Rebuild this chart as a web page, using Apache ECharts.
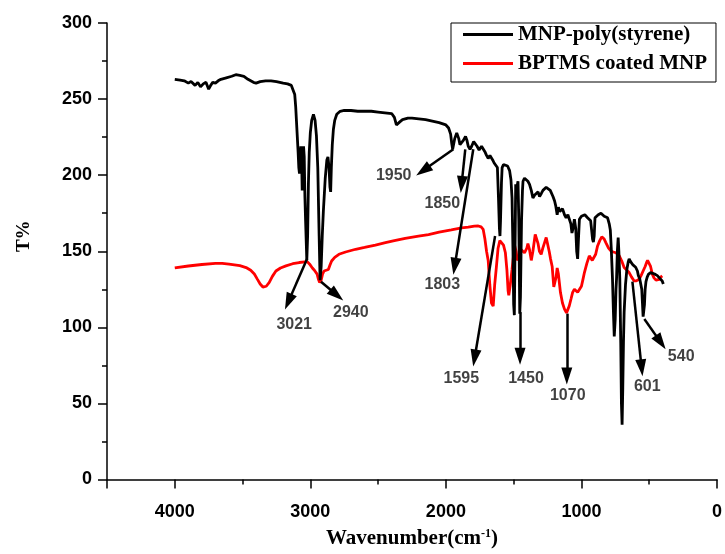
<!DOCTYPE html>
<html><head><meta charset="utf-8">
<script src="https://cdn.jsdelivr.net/npm/echarts@6/dist/echarts.min.js"></script>
<style>html,body{margin:0;padding:0;background:#fff}#c{width:725px;height:554px}</style>
</head><body><div id="c"></div>
<script>
// Black curve: MNP-poly(styrene)
const blackWave = [4000,3960,3930,3900,3880,3850,3830,3810,3790,3770,3750,3735,3720,3700,3680,3660,3620,3580,3550,3520,3490,3460,3420,3400,3370,3330,3290,3250,3200,3168,3140,3126,3115,3108,3102,3096,3090,3085,3080,3075,3070,3065,3060,3055,3050,3045,3040,3035,3026,3020,3014,3008,3000,2990,2977,2965,2955,2945,2935,2928,2920,2912,2904,2890,2878,2870,2862,2855,2850,2845,2838,2830,2820,2805,2780,2750,2700,2650,2600,2550,2500,2450,2400,2380,2365,2354,2340,2320,2280,2250,2200,2150,2100,2050,2000,1980,1965,1957,1950,1945,1935,1920,1905,1896,1884,1870,1855,1845,1835,1822,1810,1795,1786,1770,1755,1749,1737,1725,1710,1700,1688,1675,1664,1655,1644,1630,1620,1612,1605,1601,1597,1590,1585,1575,1561,1545,1530,1520,1512,1505,1500,1495,1490,1485,1480,1474,1468,1462,1455,1450,1442,1435,1431,1420,1407,1395,1383,1370,1358,1345,1334,1320,1309,1296,1284,1270,1260,1245,1230,1220,1210,1198,1190,1179,1170,1160,1150,1140,1125,1113,1100,1088,1078,1070,1062,1052,1042,1035,1028,1022,1015,1000,990,975,966,955,942,932,925,918,912,906,900,890,876,865,856,845,832,820,807,795,787,780,771,764,758,751,745,741,735,729,724,717,710,705,700,695,690,685,675,665,655,648,640,631,620,611,600,594,587,580,570,563,555,550,545,540,535,530,524,515,505,490,477,460,440,420,404,396];
const blackT = [263,262.5,262,260.5,261.5,259,261,258,260,261,256.5,259,261,260.5,262,263,264,265,266,265.5,265,263,261,260.5,261.5,262,262,261.5,260.5,260,259,258,253,245,235,225,215,205,201,210,219,214,190,205,219,212,186,170,144,160,195,215,228,236,240,236,226,205,160,131,140,160,176,198,210,212,205,192,189,205,220,230,236,240,242,242.5,242.5,242,242,242,241.5,241,240.5,238,233,232,235,236.5,237.5,237.5,237,236.5,235.5,234.5,233,231,227,221,217,218,224,227.7,224,220,219,223,225.5,223,219,217,219,222,221,219,216.5,217,219,218,215,213,211,213,212.5,210,208,208,205,185,165,160,170,195,205,207,208,206,203,197,185,150,115,108,150,194,190,193,196,170,109,120,170,190,196,198,198,196,194,190,185,187,187,189,186,188,190,191,192,191,190,189,186,183,180,174,179,176,175,178,174,172,174,173,168,162,165,171,165,150,145,158,171,173,173,174,174,172,173,170,164,158,156,160,172,173,174,175,175,174,173,173.5,172,168,164,152,132,110,94,105,125,132,150,159,150,132,90,50,36,60,90,110,128,138,143,145,143.5,142.6,141,140.4,139.5,139,137,134,132,131.5,125,116,107,106,115,125,130,133,135,136,135.5,135,134,132,130.5,128.5];

// Red curve: BPTMS coated MNP
const redWave = [4000,3900,3800,3700,3650,3600,3520,3474,3440,3413,3390,3370,3350,3339,3325,3303,3280,3254,3220,3180,3130,3082,3040,3021,3005,2985,2970,2960,2950,2940,2931,2920,2910,2899,2885,2867,2855,2843,2820,2789,2740,2666,2600,2520,2446,2380,2300,2202,2128,2050,1960,1884,1835,1790,1761,1740,1725,1712,1700,1688,1676,1664,1651,1640,1627,1615,1602,1590,1575,1561,1550,1541,1536,1525,1512,1500,1492,1482,1473,1463,1452,1444,1431,1420,1411,1403,1395,1383,1370,1358,1341,1334,1320,1310,1297,1285,1272,1260,1248,1238,1228,1216,1204,1195,1187,1179,1170,1155,1140,1125,1110,1101,1090,1077,1065,1052,1040,1028,1015,1000,990,978,960,942,930,920,910,895,881,865,850,844,832,820,800,783,765,746,733,721,700,685,670,660,648,630,611,595,575,560,545,538,530,520,512,501,490,477,465,450,440,425,415,404];
const redT = [139,140.3,141.3,142,142,141.5,140.5,139.3,137.5,135,131.5,128.5,126.5,126,127,129.5,133.5,137,139,140.4,141.8,142.6,143,143,141.5,139,137.5,137,135,131.5,129.5,131,135,137,137.5,138,141,143.6,146,148,149.5,151.3,152.5,154,155.7,157,158.5,160,161,162.5,164,165.3,165.8,166.5,166.6,166,164.4,158,150,144,128,116,114,128,140,152,157,157.9,154,149,138,124,121,128,138,148,153.5,150,144,143,148,151,150.2,149,148,152,155,151,144,150,161,160,155,150,148,152,155.7,159,158,150,145,140,126.5,130,133,139,135,123,116,112,109.5,110,114,118.6,123,125,124,123,123,127,131,136,142,147,146,144,143.6,148,153.5,157,159.5,160,158,155.7,152,150.2,149.5,149,148,147,143,139.3,138,137.5,136,133,130.5,130.5,131.6,134,137,138.2,140,142.5,144,143.6,140,135,132.5,131,130.5,131.5,133,133.8];

// Peak annotations (arrow from curve to label)
const peakLabels = ['3021','2940','1950','1850','1803','1595','1450','1070','601','540'];
const arrowStart = [[3024,145],[2921,130],[1945,217],[1857,217],[1798,217],[1637,160],[1453,110],[1108,109],[624,130],[536,105.5]];
const arrowEnd = [[3162,116.8],[2805,121.2],[2168,203],[1884,193.9],[1935,140.1],[1788,79.8],[1453,81],[1108,68],[556,73.4],[415,90.1]];
const labelPos = [[3119,102],[2701,110],[2385,200],[2026,181.4],[2026,128.4],[1886,66],[1409,66],[1101,55],[514,61],[264,81]];

const xTicks = [4000,3000,2000,1000,0];
const seriesNames = ['MNP-poly(styrene)','BPTMS coated MNP'];

const zip = (a,b) => a.map((v,i)=>[v,b[i]]);
const chart = echarts.init(document.getElementById('c'), null, {renderer:'canvas'});
const sans = "'Liberation Sans', Arial, sans-serif";
const serif = "'Liberation Serif', 'Times New Roman', serif";

chart.setOption({
  animation:false,
  backgroundColor:'#fff',
  grid:{left:107,right:5,top:23,bottom:73,containLabel:false},
  legend:{
    data:seriesNames,
    orient:'vertical',
    left:451, top:23,
    padding:[1,9,8,12],
    itemGap:8,
    itemWidth:50, itemHeight:3,
    icon:'rect',
    borderColor:'#000', borderWidth:1,
    textStyle:{fontFamily:serif,fontWeight:'bold',fontSize:21,color:'#000'}
  },
  xAxis:{
    type:'value', inverse:true, min:0, max:4500, interval:1000,
    axisLine:{show:true,onZero:false,lineStyle:{color:'#000',width:1.5}},
    axisTick:{show:true,inside:false,length:9,lineStyle:{color:'#000',width:1.5}},
    minorTick:{show:true,splitNumber:2,length:5,lineStyle:{color:'#000',width:1.5}},
    splitLine:{show:false},
    axisLabel:{margin:24,fontFamily:sans,fontWeight:'bold',fontSize:18,color:'#000',
      formatter:v=> xTicks.indexOf(v)>=0 ? String(v) : ''},
    name:'{a|Wavenumber(cm}{s|-1}{a|)}',
    nameLocation:'middle', nameGap:48,
    nameTextStyle:{rich:{
      a:{fontFamily:serif,fontWeight:'bold',fontSize:21,color:'#000'},
      s:{fontFamily:serif,fontWeight:'bold',fontSize:12,color:'#000',verticalAlign:'top',padding:[0,0,10,0]}
    }}
  },
  yAxis:{
    type:'value', position:'left', min:0, max:300, interval:50,
    axisLine:{show:true,onZero:false,lineStyle:{color:'#000',width:1.5}},
    axisTick:{show:true,inside:false,length:9,lineStyle:{color:'#000',width:1.5}},
    minorTick:{show:true,splitNumber:2,length:5,lineStyle:{color:'#000',width:1.5}},
    splitLine:{show:false},
    axisLabel:{margin:15,fontFamily:sans,fontWeight:'bold',fontSize:18,color:'#000'},
    name:'T%', nameLocation:'middle', nameGap:73,
    nameTextStyle:{fontFamily:serif,fontWeight:'bold',fontSize:19,color:'#000',padding:[0,0,0,30]}
  },
  series:[
    {name:seriesNames[0],type:'line',data:zip(blackWave,blackT),showSymbol:false,symbol:'none',
     lineStyle:{color:'#000',width:2.8},itemStyle:{color:'#000'},z:3,
     markLine:{silent:true,symbol:['none','triangle'],symbolSize:[11,17],
       lineStyle:{color:'#000',width:2.5,type:'solid'},label:{show:false},
       data:arrowStart.map((s,i)=>[{coord:s},{coord:arrowEnd[i]}])}},
    {name:seriesNames[1],type:'line',data:zip(redWave,redT),showSymbol:false,symbol:'none',
     lineStyle:{color:'#ff0000',width:2.8},itemStyle:{color:'#ff0000'},z:2},
    {name:'labels',type:'scatter',symbolSize:0,silent:true,
     data:labelPos.map((p,i)=>({value:p,name:peakLabels[i]})),
     label:{show:true,position:'inside',formatter:p=>p.name,fontFamily:sans,fontWeight:'bold',fontSize:16,color:'#111'}}
  ]
});
</script></body></html>
